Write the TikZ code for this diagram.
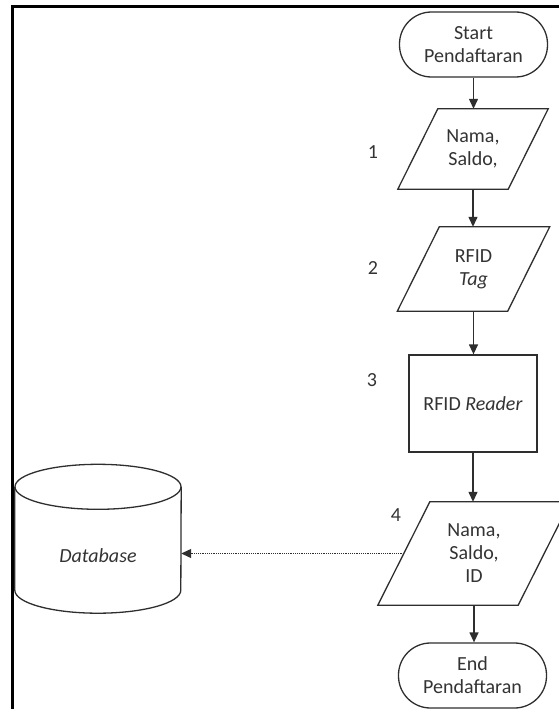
\documentclass[tikz,border=0pt]{standalone}
\usepackage{fontspec}
\setmainfont{Carlito}
\usetikzlibrary{arrows.meta}
\definecolor{ink}{HTML}{2E2E2E}
\definecolor{txt}{HTML}{333333}
\begin{document}
\begin{tikzpicture}[x=1pt,y=1pt,
  every node/.style={font=\fontsize{20}{23}\selectfont, text=txt, align=center, inner sep=0pt},
  shp/.style={draw=ink, line width=1.3pt},
  term/.style={shp, rounded corners=32pt, minimum width=148pt, minimum height=65pt},
  box/.style={shp, minimum width=128pt, minimum height=97pt},
  num/.style={font=\fontsize{20}{23}\selectfont},
  flow/.style={draw=ink, line width=1.3pt, -{Triangle[length=10pt,width=9pt]}},
  dataflow/.style={draw=ink, line width=1.2pt, densely dotted, -{Triangle[length=10pt,width=9pt]}}
]
\useasboundingbox (0,0) rectangle (559,-709);
\clip (0,0) rectangle (559,-709);
% frame
\draw[black, line width=3pt] (12,-712) -- (12,-7) -- (562,-7);

% Start
\node[term] (start) at (473.5,-44.5) {Start\\Pendaftaran};

% Parallelogram 1
\node[minimum width=110pt, minimum height=80pt] (p1) at (473,-149) {Nama,\\Saldo,};
\draw[shp] ([xshift=-20pt]p1.south west) -- ([xshift=-20pt]p1.south east) -- ([xshift=20pt]p1.north east) -- ([xshift=20pt]p1.north west) -- cycle;
\node[num] (n1) at (373,-152) {1};

% Parallelogram 2
\node[minimum width=110pt, minimum height=84pt] (p2) at (473.5,-269) {RFID\\\textit{Tag}};
\draw[shp] ([xshift=-21pt]p2.south west) -- ([xshift=-21pt]p2.south east) -- ([xshift=21pt]p2.north east) -- ([xshift=21pt]p2.north west) -- cycle;
\node[num] (n2) at (373,-268) {2};

% Rectangle 3
\node[box] (r3) at (473,-403.5) {RFID \textit{Reader}};
\node[num] (n3) at (372,-380) {3};

% Parallelogram 4
\node[minimum width=140pt, minimum height=103pt] (p4) at (474,-553.5) {Nama,\\Saldo,\\ID};
\draw[shp] ([xshift=-26pt]p4.south west) -- ([xshift=-26pt]p4.south east) -- ([xshift=26pt]p4.north east) -- ([xshift=26pt]p4.north west) -- cycle;
\node[num] (n4) at (396,-515) {4};

% End
\node[term] (end) at (472.5,-675.5) {End\\Pendaftaran};

% Database cylinder
\node[minimum width=166pt, minimum height=103pt] (db) at (98,-538.5) {};
\node (dbtext) at (98,-556) {\textit{Database}};
\draw[shp] (db.north west) -- (db.south west) arc[start angle=180, end angle=360, x radius=83pt, y radius=23pt] -- (db.north east);
\draw[shp] (db.north) ellipse[x radius=83pt, y radius=22.5pt];

% connectors
\draw[flow] (start.south) -- (start.south |- p1.north);
\draw[flow] (p1.south) -- (p1.south |- p2.north);
\draw[flow] (p2.south) -- (p2.south |- r3.north);
\draw[flow] (r3.south) -- (r3.south |- p4.north);
\draw[flow] (p4.south) -- (p4.south |- end.north);
\draw[dataflow] (p4.west) -- (p4.west -| db.east);
\end{tikzpicture}
\end{document}
